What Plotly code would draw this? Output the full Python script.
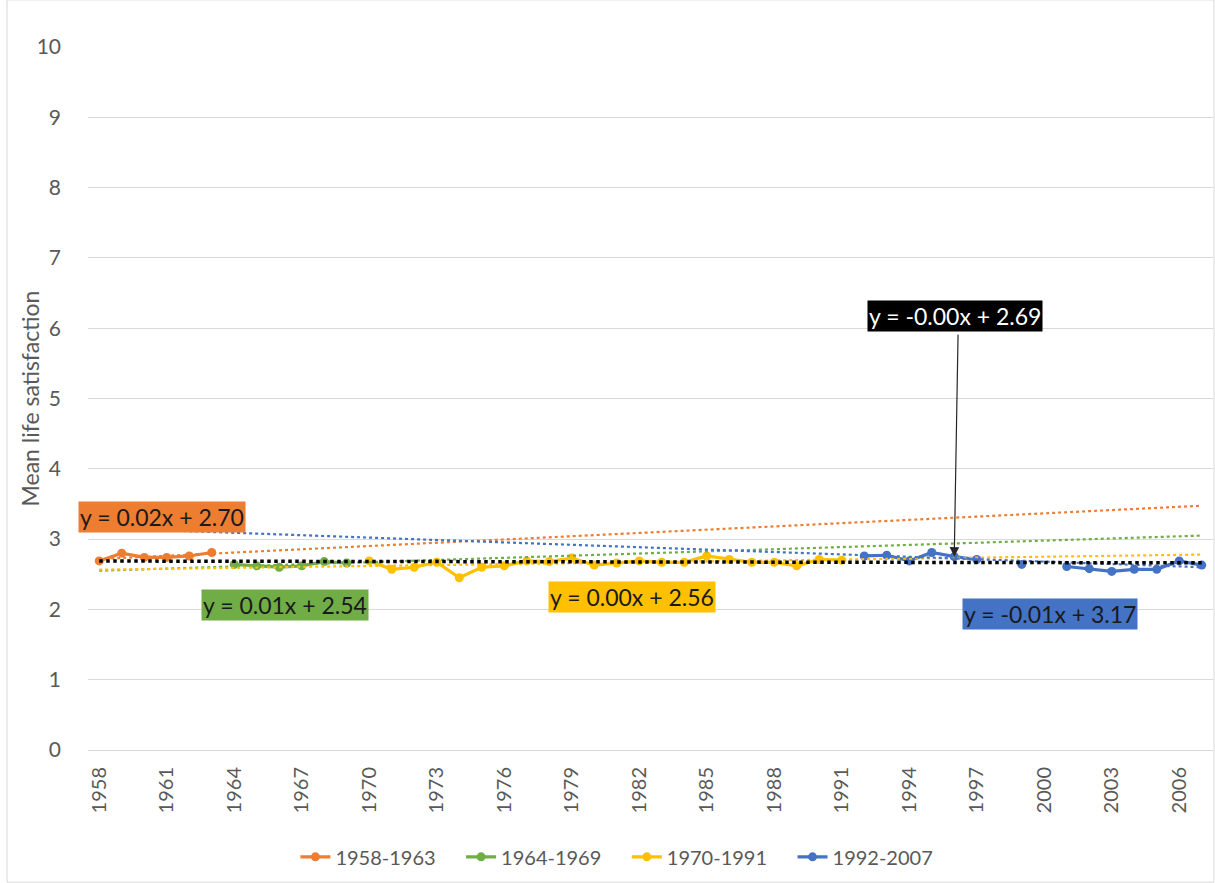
import plotly.graph_objects as go

# ---- data ----
years_a = [1958, 1959, 1960, 1961, 1962, 1963]
vals_a = [2.69, 2.80, 2.74, 2.74, 2.76, 2.81]

years_b = [1964, 1965, 1966, 1967, 1968, 1969]
vals_b = [2.64, 2.62, 2.60, 2.62, 2.68, 2.66]

years_c = list(range(1970, 1992))
vals_c = [2.69, 2.57, 2.60, 2.67, 2.45, 2.60, 2.62, 2.69, 2.68, 2.73, 2.63,
          2.66, 2.69, 2.67, 2.67, 2.76, 2.71, 2.67, 2.67, 2.62, 2.71, 2.70]

years_d = list(range(1992, 2008))
vals_d = [2.76, 2.77, 2.69, 2.81, 2.75, 2.71, None, 2.64, None, 2.61,
          2.58, 2.54, 2.57, 2.57, 2.69, 2.63]

series_names = ["1958-1963", "1964-1969", "1970-1991", "1992-2007"]
series_colors = ["#ED7D31", "#70AD47", "#FFC000", "#4472C4"]

# trendline values at first (1958) and last (2007) category
trend_x = [1958, 2007]
trend_start = [2.716, 2.55, 2.565, 3.158, 2.688]
trend_end = [3.475, 3.05, 2.78, 2.60, 2.662]
trend_colors = ["#ED7D31", "#70AD47", "#FFC000", "#4472C4", "#000000"]
trend_labels = ["y = 0.02x + 2.70", "y = 0.01x + 2.54", "y = 0.00x + 2.56",
                "y = -0.01x + 3.17", "y = -0.00x + 2.69"]

tick_years = list(range(1958, 2008, 3))

FONT = "Lato"
GREY = "#595959"
NBSP = "\u00a0"

fig = go.Figure()

for yrs, vals, name, col in zip([years_a, years_b, years_c, years_d],
                                [vals_a, vals_b, vals_c, vals_d],
                                series_names, series_colors):
    fig.add_trace(go.Scatter(
        x=yrs, y=vals, name=name + NBSP * 4, mode="lines+markers",
        line=dict(color=col, width=3.2), marker=dict(color=col, size=9),
        connectgaps=False))

for s, e, c in zip(trend_start, trend_end, trend_colors):
    fig.add_trace(go.Scatter(
        x=trend_x, y=[s, e], mode="lines", showlegend=False, hoverinfo="skip",
        line=dict(color=c, width=3.5 if c == "#000000" else 2.2, dash="dot")))

# annotation boxes
box_pos = [(1960.81, 3.31), (1966.26, 2.06), (1981.68, 2.18), (2000.26, 1.93), (1996.03, 6.17)]
box_text_col = ["#1a1a1a", "#1a1a1a", "#1a1a1a", "#1a1a1a", "#ffffff"]
for (bx, by), lab, bg, tc in zip(box_pos, trend_labels, trend_colors, box_text_col):
    fig.add_annotation(x=bx, y=by, xref="x", yref="y", text=lab, showarrow=False,
                       bgcolor=bg, font=dict(family=FONT, size=23, color=tc),
                       borderpad=1)

# arrow from black label to the 1996 point
fig.add_annotation(x=1996.0, y=2.75, ax=1996.17, ay=5.93, xref="x", yref="y",
                   axref="x", ayref="y", text="", showarrow=True,
                   arrowhead=2, arrowsize=1.6, arrowwidth=1.2, arrowcolor="#262626")

# y-axis title
fig.add_annotation(x=-0.0516, y=0.5, xref="paper", yref="paper", xanchor="center",
                   yanchor="middle", text="Mean life satisfaction", textangle=-90,
                   showarrow=False, font=dict(family=FONT, size=23, color=GREY))

fig.update_layout(
    width=1215, height=883,
    margin=dict(l=88, r=2, t=47, b=133, autoexpand=False),
    paper_bgcolor="white", plot_bgcolor="white",
    font=dict(family=FONT, color=GREY),
    legend=dict(orientation="h", x=0.479, xanchor="center", y=-0.152, yanchor="middle",
                font=dict(family=FONT, size=20, color=GREY), itemwidth=30,
                tracegroupgap=0),
    showlegend=True,
)

fig.update_xaxes(range=[1957.5, 2007.5], tickmode="array", tickvals=tick_years,
                 ticktext=[str(t) for t in tick_years], tickangle=-90,
                 tickfont=dict(family=FONT, size=20, color=GREY), automargin=False,
                 showgrid=False, zeroline=False, showline=True,
                 linecolor="#D9D9D9", linewidth=1, ticks="", ticklabelstandoff=8)
fig.update_yaxes(range=[0, 10], dtick=1, tickfont=dict(family=FONT, size=21, color=GREY),
                 showgrid=True, gridcolor="#D9D9D9", gridwidth=1, zeroline=False,
                 ticks="", ticklabelstandoff=26, automargin=False)

# chart-area border
fig.add_shape(type="rect", xref="paper", yref="paper", x0=-0.072, x1=1.0009,
              y0=-0.188, y1=1.067, line=dict(color="#D9D9D9", width=1), layer="below")

fig.write_html("out.html", config={"displayModeBar": False},
               post_script="document.body.style.margin='0px';")
